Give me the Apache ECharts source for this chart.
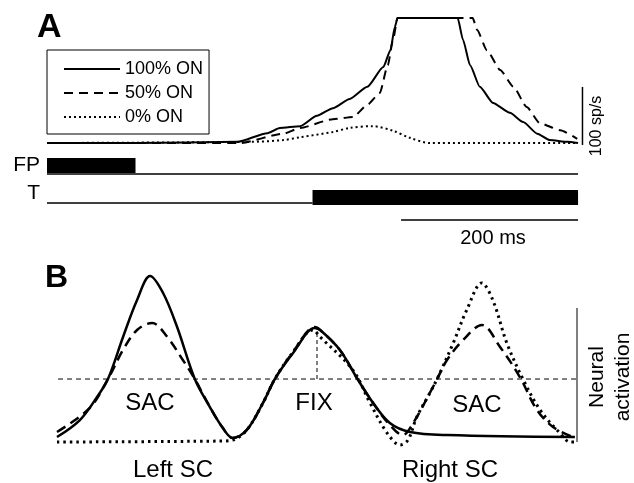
<!DOCTYPE html>
<html>
<head>
<meta charset="utf-8">
<script src="https://cdn.jsdelivr.net/npm/echarts@6/dist/echarts.min.js"></script>
<style>
html,body{margin:0;padding:0;background:#fff;}
#chart{width:634px;height:483px;}
</style>
</head>
<body>
<div id="chart"></div>
<script>
// ---------- Panel A: firing rate (sp/s) vs time (ms) ----------
const legendNames = ['100% ON', '50% ON', '0% ON'];
const solidA = [[0,0],[100,0],[215,2],[249,17],[263,26],[286,29],[305,47],[323,60],[342,76],[362,97],[380,131],[388,160],[393,200],[396,215.5],[464,215.5],[470,178],[478,134],[489,97],[504,69],[523,52],[538,36],[554,16],[568,5],[588,2],[600,0]];
const dashedA = [[0,0],[218,0],[267,16],[286,26],[323,41],[346,45],[362,66],[376,86],[385,134],[391,178],[396,215.5],[481,215.5],[486,195],[497,160],[512,126],[527,97],[542,62],[557,34],[580,22],[599,7]];
const dottedA = [[0,0],[229,2],[267,5],[286,10],[323,19],[342,26],[368,29],[391,21],[410,9],[433,0],[600,0]];
const rateScaleBar = [[605,-3.4],[605,96.6]];   // 100 sp/s
// Events (FP / T)
const fpOn = [[0,64.5],[100,64.5]];
const fpTrack = [[0,56],[600,56]];
const tOff = [[0,27],[300,27]];
const tOn = [[300,32.5],[600,32.5]];
const timeScaleBar = [[400,10],[600,10]];        // 200 ms
// ---------- Panel B: neural activation across SC map ----------
const solidB = [[0,3.7],[4.4,16.4],[7.7,33.6],[9.8,47],[12.7,78.4],[15.4,106],[17.9,123.9],[20.4,111.2],[23.1,85.8],[26.5,47],[29.4,26.1],[31.9,10.4],[33.8,3],[36.5,9],[39.6,29.1],[41.9,47],[45.4,66.4],[49.6,85.1],[50.6,83.6],[54.4,68.7],[57.9,46.3],[60.8,29.1],[64,14.2],[67.9,7.5],[75,5.2],[99.6,3.7]];
const dashedB = [[0,7.5],[6.3,25.4],[9.8,47],[12.7,68.7],[15.4,83.6],[18.3,88.8],[21.2,78.4],[24.2,61.2],[26.5,47],[29.4,26.1],[31.9,10.4],[33.8,3],[36.5,9],[39.6,29.1],[41.9,47],[45.4,67.2],[49.6,85.8],[50.6,83.6],[54.4,68.7],[57.9,46.3],[60.8,29.1],[64,12.7],[66.5,5.2],[68.5,14.2],[71.7,36.6],[73.1,47],[75,61.2],[78.1,76.1],[81.7,87.3],[85.2,70.9],[89,48.5],[92.3,23.9],[95.4,11.2],[99.2,3.7]];
const dottedB = [[0,0],[31.3,0.7],[33.8,1.5],[36.5,9],[39.6,29.1],[41.9,47],[45.4,67.2],[49.2,83.6],[50.6,78.4],[56.9,53.7],[60.2,29.1],[63.5,6.7],[66,-2.2],[67.5,1.5],[69.2,18.7],[71.7,36.6],[73.1,47],[76.2,73.9],[78.8,98.5],[81.7,118.7],[83.8,106],[86.5,73.9],[89.6,47],[92.9,23.9],[96.7,6.7],[98.7,0],[100,0]];
const threshold = [[0.2,47],[100,47]];
const fixMarker = [[50,47],[50,85]];
const activationScaleBar = [[100,0],[100,100]];

const FONT = '"Liberation Sans", Arial, sans-serif';
const chart = echarts.init(document.getElementById('chart'), null, {renderer:'canvas'});

function ln(name, data, xi, width, type, extra) {
  return Object.assign({
    name: name, type: 'line', data: data, xAxisIndex: xi, yAxisIndex: xi,
    symbol: 'none', showSymbol: false, clip: false, silent: true, animation: false,
    lineStyle: {color: '#000', width: width, type: type, cap: 'butt'},
    itemStyle: {color: '#000'}
  }, extra || {});
}
function txt(text, x, y, size, opts) {
  opts = opts || {};
  return {
    type: 'text', x: x, y: y, rotation: opts.rotation || 0, silent: true,
    style: {
      text: text, fill: '#000',
      font: (opts.bold ? 'bold ' : '') + size + 'px ' + FONT,
      textAlign: opts.align || 'center', textVerticalAlign: 'middle',
      align: opts.align || 'center', verticalAlign: 'middle',
      lineHeight: opts.lineHeight || size
    }
  };
}

const option = {
  backgroundColor: '#fff',
  animation: false,
  grid: [
    {left: 47, top: 18, width: 539.9, height: 130.8},
    {left: 47, top: 150, width: 539.9, height: 80},
    {left: 57, top: 294.6, width: 520, height: 160.8}
  ],
  xAxis: [
    {type: 'value', gridIndex: 0, min: 0, max: 610, show: false},
    {type: 'value', gridIndex: 1, min: 0, max: 610, show: false},
    {type: 'value', gridIndex: 2, min: 0, max: 100, show: false}
  ],
  yAxis: [
    {type: 'value', gridIndex: 0, min: -10, max: 215.5, show: false},
    {type: 'value', gridIndex: 1, min: 0, max: 80, show: false},
    {type: 'value', gridIndex: 2, min: -10, max: 110, show: false}
  ],
  legend: {
    data: legendNames,
    orient: 'vertical', left: 47, top: 50,
    padding: [10, 6, 8, 16],
    itemGap: 6, itemWidth: 56, itemHeight: 14,
    borderColor: '#000', borderWidth: 1, borderRadius: 0,
    selectedMode: false,
    itemStyle: {opacity: 0, borderWidth: 0},
    textStyle: {color: '#000', fontSize: 18, fontFamily: FONT}
  },
  series: [
    ln('100% ON', solidA, 0, 2, 'solid', {smooth: 0.2, smoothMonotone: 'x'}),
    ln('50% ON', dashedA, 0, 2, [9, 6], {smooth: 0.2, smoothMonotone: 'x'}),
    ln('0% ON', dottedA, 0, 2, [2, 3], {smooth: 0.3}),
    ln('rateScale', rateScaleBar, 0, 1.5, 'solid'),
    ln('FP on', fpOn, 1, 15, 'solid'),
    ln('FP track', fpTrack, 1, 1.5, 'solid'),
    ln('T off', tOff, 1, 1.5, 'solid'),
    ln('T on', tOn, 1, 15, 'solid'),
    ln('timeScale', timeScaleBar, 1, 1.5, 'solid'),
    ln('thresholdB', threshold, 2, 1, [5, 4]),
    ln('fixB', fixMarker, 2, 1, [4, 3]),
    ln('scaleB', activationScaleBar, 2, 1.5, 'solid', {lineStyle: {color: '#555', width: 1.5}}),
    ln('100% ON B', solidB, 2, 2.5, 'solid', {smooth: 0.35}),
    ln('50% ON B', dashedB, 2, 2.5, [10, 6], {smooth: 0.35}),
    ln('0% ON B', dottedB, 2, 3, [2.5, 4], {smooth: 0.35})
  ],
  graphic: [
    txt('A', 37, 28, 34, {bold: true, align: 'left'}),
    txt('B', 45, 278, 32, {bold: true, align: 'left'}),
    txt('FP', 40, 165, 21, {align: 'right'}),
    txt('T', 40, 193, 21, {align: 'right'}),
    txt('200 ms', 493, 238, 20),
    txt('100 sp/s', 597, 126, 16, {rotation: Math.PI / 2}),
    txt('SAC', 150, 403, 24),
    txt('FIX', 314, 403, 24),
    txt('SAC', 477, 405, 24),
    txt('Left SC', 173, 470, 24),
    txt('Right SC', 450, 470, 24),
    txt('Neural\nactivation', 610, 377, 21, {rotation: Math.PI / 2, lineHeight: 26})
  ]
};
chart.setOption(option);
</script>
</body>
</html>
